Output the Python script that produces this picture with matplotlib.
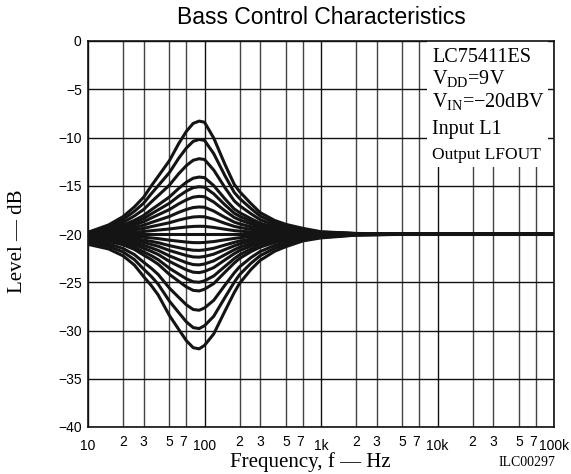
import numpy as np
import matplotlib
matplotlib.use("Agg")
import matplotlib.pyplot as plt
import matplotlib.transforms as mtransforms
from matplotlib.patches import Rectangle
from matplotlib.ticker import FixedLocator

plt.rcParams['mathtext.fontset'] = 'custom'
plt.rcParams['mathtext.rm'] = 'Liberation Serif'

# frequency points (Hz) and normalized response profiles of the bass control
freq = [10, 15, 20, 25, 30, 35, 40, 50, 60, 70, 80, 90, 100, 120, 150, 180,
        200, 250, 300, 400, 500, 700, 1000, 2000, 5000, 100000]
boost_shape = [0.015, 0.08, 0.154, 0.24, 0.325, 0.427, 0.51, 0.65, 0.80, 0.91,
               0.98, 1.0, 0.99, 0.85, 0.615, 0.44, 0.376, 0.27, 0.19, 0.12,
               0.085, 0.05, 0.02, 0.005, 0.0, 0.0]
cut_shape = [0.09, 0.13, 0.19, 0.27, 0.37, 0.45, 0.53, 0.71, 0.83, 0.93,
             0.99, 1.0, 0.97, 0.87, 0.67, 0.51, 0.43, 0.31, 0.23, 0.15,
             0.11, 0.06, 0.034, 0.01, 0.003, 0.0]

# level at the centre frequency for each control step (dB)
boost_peaks = [-8.3, -10.2, -12.2, -14.1, -15.1, -16.1, -17.2, -18.2, -19.2]
flat_level = -20.0
cut_peaks = [-20.9, -21.7, -22.4, -23.2, -24.0, -25.0, -25.9, -27.9, -29.8, -31.9]

yticks = [0, -5, -10, -15, -20, -25, -30, -35, -40]
major_x = [10, 100, 1000, 10000, 100000]
major_x_labels = ["10", "100", "1k", "10k", "100k"]
minor_mult = [2, 3, 5, 7]

fig = plt.figure(figsize=(5.71, 4.74), dpi=100)
ax = fig.add_axes([88 / 571, 1 - 427 / 474, 466 / 571, 386 / 474])

f = np.array(freq)
for pk in boost_peaks:
    ax.plot(f, flat_level + (pk - flat_level) * np.array(boost_shape),
            color='#141414', lw=2.2, zorder=3)
ax.plot(f, np.full(len(f), flat_level), color='#141414', lw=2.2, zorder=3)
for pk in cut_peaks:
    ax.plot(f, flat_level + (pk - flat_level) * np.array(cut_shape),
            color='#141414', lw=2.2, zorder=3)

ax.set_xscale('log')
ax.set_xlim(10, 100000)
ax.set_ylim(-40, 0)

minor_x = [m * d for d in major_x[:-1] for m in minor_mult]
ax.xaxis.set_major_locator(FixedLocator(major_x))
ax.set_xticklabels(major_x_labels)
ax.set_xticks(minor_x, [str(m) for d in major_x[:-1] for m in minor_mult], minor=True)
ax.set_yticks(yticks, [("\u2212" + str(-v)) if v < 0 else str(v) for v in yticks])

ax.tick_params(which='both', length=0, labelsize=10)
ax.tick_params(axis='x', which='major', pad=8.5)
ax.tick_params(axis='x', which='minor', pad=5.5)
ax.tick_params(axis='y', pad=4.5)
for lab in ax.get_xticklabels(which='both') + ax.get_yticklabels():
    lab.set_family('Liberation Sans')

# nudge the "7" labels left so they clear the decade labels
shift = mtransforms.ScaledTranslation(-3 / 100, 0, fig.dpi_scale_trans)
for lab in ax.get_xticklabels(minor=True):
    if lab.get_text() == "7":
        lab.set_transform(lab.get_transform() + shift)

ax.set_axisbelow(True)
ax.grid(True, which='major', color='#111111', lw=1.0)
ax.grid(True, which='minor', axis='x', color='#444444', lw=1.0)
for sp in ax.spines.values():
    sp.set_linewidth(1.2)
    sp.set_color('#111111')

# white panel behind the condition notes
ax.add_patch(Rectangle((0.727, 0.674), 0.26, 0.326, transform=ax.transAxes,
                       facecolor='white', edgecolor='none', zorder=2))

notes = [("LC75411ES", 62, 14.5),
         (r"V$_{\rm DD}$=9V", 85, 14.5),
         (r"V$_{\rm IN}$=" + "\u221220dBV", 108, 14.5),
         ("Input L1", 134, 14.5),
         ("Output LFOUT", 159, 12.5)]
for txt, yb, fs in notes:
    fig.text(432 / 571, 1 - yb / 474, txt, family='Liberation Serif',
             fontsize=fs, ha='left', va='baseline')

fig.text(321 / 571, 1 - 18 / 474, "Bass Control Characteristics",
         family='Liberation Sans', fontsize=16.5, ha='center', va='center')
fig.text(18 / 571, 1 - 241 / 474, "Level \u2014 dB", family='Liberation Serif',
         fontsize=15, rotation=90, ha='center', va='center')
fig.text(310 / 571, 1 - 462 / 474, "Frequency, f \u2014 Hz",
         family='Liberation Serif', fontsize=15, ha='center', va='center')
fig.text(555 / 571, 1 - 463 / 474, "ILC00297", family='Liberation Serif',
         fontsize=10, ha='right', va='center')

fig.savefig("out.png", dpi=100)
